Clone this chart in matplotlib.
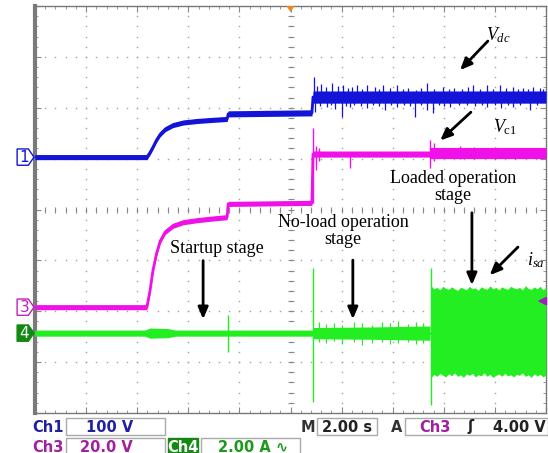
import numpy as np
import matplotlib.pyplot as plt
from matplotlib.patches import Polygon, Rectangle

# scope screen in divisions: 10 across, 8 high
# Ch1 (Vdc)
ch1_t = [0, 2.19, 2.25, 2.31, 2.38, 2.45, 2.55, 2.70, 2.90, 3.17, 3.45, 3.76, 3.78,
         5.42, 5.44, 10]
ch1_v = [5.03, 5.03, 5.12, 5.23, 5.37, 5.48, 5.58, 5.66, 5.71, 5.74, 5.76, 5.78, 5.88,
         5.90, 6.21, 6.21]
ch1_noise = [0.05, 0.05, 0.05, 0.05, 0.05, 0.05, 0.05, 0.05, 0.05, 0.05, 0.05, 0.05,
             0.06, 0.06, 0.12, 0.12]
ch1_up_t = [5.46, 5.52, 5.60, 5.70, 5.81, 5.92, 6.03, 6.12, 6.21, 6.30, 6.40, 6.50,
            6.65, 6.73, 6.81, 6.95, 7.08, 7.20, 7.30, 7.45, 7.55, 7.67, 7.80, 7.98,
            8.10, 8.20, 8.35, 8.47, 8.57, 8.70, 8.84, 8.97, 9.10, 9.22, 9.35, 9.45,
            9.55, 9.65, 9.74, 9.88, 9.95]
ch1_up_v = [6.60, 6.42, 6.46, 6.40, 6.48, 6.42, 6.44, 6.38, 6.40, 6.44, 6.36, 6.44,
            6.40, 6.37, 6.44, 6.38, 6.44, 6.36, 6.38, 6.35, 6.38, 6.48, 6.36, 6.40,
            6.37, 6.38, 6.36, 6.40, 6.44, 6.37, 6.44, 6.36, 6.44, 6.38, 6.40, 6.36,
            6.38, 6.37, 6.40, 6.39, 6.36]
ch1_dn_t = [5.48, 5.58, 5.71, 5.80, 5.88, 6.01, 6.08, 6.16, 6.25, 6.38, 6.50, 6.62,
            6.73, 6.85, 6.96, 7.08, 7.22, 7.33, 7.44, 7.55, 7.67, 7.79, 7.90, 8.00,
            8.12, 8.30, 8.45, 8.62, 8.75, 8.84, 9.00, 9.12, 9.25, 9.35, 9.50, 9.69,
            9.82]
ch1_dn_v = [5.91, 6.04, 6.01, 6.05, 5.98, 5.82, 6.04, 6.01, 6.06, 6.04, 5.99, 6.05,
            6.04, 5.95, 6.05, 6.01, 6.06, 6.04, 5.82, 6.05, 5.95, 5.89, 6.06, 6.04,
            6.01, 6.05, 6.05, 6.04, 6.06, 6.01, 6.05, 6.00, 6.06, 6.01, 6.05, 5.95,
            6.05]

# Ch3 (Vc1)
ch3_t = [0, 2.19, 2.25, 2.31, 2.38, 2.45, 2.55, 2.70, 2.90, 3.17, 3.45, 3.76, 3.78,
         5.42, 5.44, 7.72, 7.74, 10]
ch3_v = [2.08, 2.08, 2.40, 2.81, 3.14, 3.38, 3.56, 3.68, 3.75, 3.79, 3.82, 3.85, 4.11,
         4.13, 5.09, 5.09, 5.11, 5.11]
ch3_noise = [0.05, 0.05, 0.05, 0.05, 0.05, 0.05, 0.05, 0.05, 0.05, 0.05, 0.05, 0.05,
             0.05, 0.05, 0.06, 0.06, 0.11, 0.11]
ch3_spike_t = [5.44, 5.50, 5.56, 6.16, 7.73, 7.80, 8.32, 8.60, 9.00, 9.40]
ch3_spike_lo = [4.13, 4.77, 4.95, 4.81, 4.81, 4.95, 5.00, 5.00, 5.00, 5.00]
ch3_spike_hi = [5.60, 5.25, 5.20, 5.10, 5.36, 5.30, 5.25, 5.22, 5.22, 5.21]

# Ch4 (isa)
ch4_level = 1.57
ch4_t = [0, 2.15, 2.25, 2.60, 2.75, 5.43, 5.45, 6.50, 7.73]
ch4_noise = [0.06, 0.06, 0.10, 0.09, 0.06, 0.06, 0.11, 0.12, 0.14]
ch4_spike_t = [3.78, 5.44, 7.75]
ch4_spike_lo = [1.20, 0.22, 0.16]
ch4_spike_hi = [1.93, 2.85, 2.85]
ch4_small_t = [5.55, 5.70, 5.85, 6.00, 6.25, 6.40, 6.60, 6.80, 6.95, 7.10, 7.30, 7.45, 7.60]
ch4_small_lo = [1.40, 1.38, 1.42, 1.36, 1.40, 1.33, 1.38, 1.40, 1.35, 1.37, 1.40, 1.36, 1.38]
ch4_small_hi = [1.78, 1.74, 1.76, 1.72, 1.78, 1.76, 1.73, 1.78, 1.76, 1.80, 1.75, 1.79, 1.77]
ch4_load_top = [2.50, 2.44, 2.47, 2.42, 2.49, 2.45, 2.43, 2.48, 2.44, 2.41, 2.47, 2.45,
                2.42, 2.49, 2.44, 2.46, 2.41, 2.48, 2.45, 2.43, 2.50, 2.44, 2.47, 2.42,
                2.48, 2.45, 2.43, 2.49, 2.46, 2.44, 2.47, 2.42, 2.50, 2.45, 2.43, 2.48,
                2.44, 2.49, 2.42, 2.47]
ch4_load_bot = [0.70, 0.76, 0.72, 0.78, 0.74, 0.71, 0.77, 0.73, 0.79, 0.72, 0.75, 0.70,
                0.77, 0.74, 0.78, 0.71, 0.75, 0.73, 0.79, 0.72, 0.76, 0.70, 0.74, 0.77,
                0.72, 0.78, 0.73, 0.75, 0.71, 0.76, 0.74, 0.79, 0.72, 0.75, 0.70, 0.77,
                0.73, 0.76, 0.71, 0.75]

BLUE = "#1414d8"
MAGENTA = "#f010e8"
GREEN = "#22ee22"
DARK_GREEN = "#128a12"

plt.rcParams["mathtext.fontset"] = "custom"
plt.rcParams["mathtext.rm"] = "Liberation Serif"
plt.rcParams["mathtext.it"] = "Liberation Serif:italic"

W, H = 548, 453
fig = plt.figure(figsize=(W / 100, H / 100), dpi=100)
ax = fig.add_axes([35 / W, 1 - 413 / H, 511 / W, 407 / H])
ax.set_xlim(0, 10)
ax.set_ylim(0, 8)


def px(x, y):
    return x / W, 1 - y / H


# grid dots and center crosshair
for gx in range(1, 10):
    ax.plot(np.full(41, gx), np.arange(0, 8.01, 0.2), ls="none", marker="s",
            ms=1.0, color="#a0a0a0", mew=0, zorder=1)
for gy in range(1, 8):
    ax.plot(np.arange(0, 10.01, 0.2), np.full(51, gy), ls="none", marker="s",
            ms=1.0, color="#a0a0a0", mew=0, zorder=1)
ax.plot(np.full(41, 5), np.arange(0, 8.01, 0.2), ls="none", marker="_", ms=5,
        color="#8a8a8a", mew=0.8, zorder=1)
ax.plot(np.arange(0, 10.01, 0.2), np.full(51, 4), ls="none", marker="|", ms=5,
        color="#8a8a8a", mew=0.8, zorder=1)

ax.set_xticks(range(11))
ax.set_yticks(range(9))
ax.set_xticks(np.arange(0, 10.01, 0.2), minor=True)
ax.set_yticks(np.arange(0, 8.01, 0.2), minor=True)
ax.tick_params(which="both", direction="in", top=True, right=True,
               labelbottom=False, labelleft=False, color="#888888")
ax.tick_params(which="major", length=4)
ax.tick_params(which="minor", length=2.5)
for s in ax.spines.values():
    s.set_color("#777777")
    s.set_linewidth(1)
ax.spines["left"].set_linewidth(3)
ax.spines["left"].set_color("#7a7a7a")

# Ch1
c1 = np.array(ch1_v)
n1 = np.array(ch1_noise)
ax.fill_between(ch1_t, c1 - n1, c1 + n1, color=BLUE, lw=0, zorder=3)
ax.plot(ch1_t, ch1_v, color=BLUE, lw=2, zorder=3)
ax.vlines(ch1_up_t, np.interp(ch1_up_t, ch1_t, ch1_v), ch1_up_v, color=BLUE, lw=0.9, zorder=3)
ax.vlines(ch1_dn_t, ch1_dn_v, np.interp(ch1_dn_t, ch1_t, ch1_v), color=BLUE, lw=0.9, zorder=3)

# Ch3
c3 = np.array(ch3_v)
n3 = np.array(ch3_noise)
ax.fill_between(ch3_t, c3 - n3, c3 + n3, color=MAGENTA, lw=0, zorder=3)
ax.plot(ch3_t, ch3_v, color=MAGENTA, lw=2, zorder=3)
ax.vlines(ch3_spike_t, ch3_spike_lo, ch3_spike_hi, color=MAGENTA, lw=1.0, zorder=3)

# Ch4
n4 = np.array(ch4_noise)
ax.fill_between(ch4_t, ch4_level - n4, ch4_level + n4, color=GREEN, lw=0, zorder=3)
ax.plot(ch4_t, np.full(len(ch4_t), ch4_level), color=GREEN, lw=2, zorder=3)
ax.vlines(ch4_small_t, ch4_small_lo, ch4_small_hi, color=GREEN, lw=0.9, zorder=3)
load_t = np.linspace(7.75, 10, len(ch4_load_top))
ax.fill_between(load_t, ch4_load_bot, ch4_load_top, color=GREEN, lw=0, zorder=3)
ax.vlines(ch4_spike_t, ch4_spike_lo, ch4_spike_hi, color=GREEN, lw=1.0, zorder=3)

# channel markers on the left
def channel_marker(level, label, edge, face, txt):
    pts = [(-0.35, level - 0.16), (-0.13, level - 0.16), (-0.02, level),
           (-0.13, level + 0.16), (-0.35, level + 0.16)]
    ax.add_patch(Polygon(pts, closed=True, facecolor=face, edgecolor=edge, lw=1.0,
                         clip_on=False, zorder=5))
    ax.text(-0.21, level, label, color=txt, fontsize=11, ha="center", va="center",
            clip_on=False, zorder=6)


channel_marker(ch1_v[0], "1", BLUE, "white", BLUE)
channel_marker(ch3_v[0], "3", "#c020c0", "white", "#c020c0")
channel_marker(ch4_level, "4", DARK_GREEN, DARK_GREEN, "white")

# trigger markers
ax.add_patch(Polygon([(4.92, 8.0), (5.08, 8.0), (5.0, 7.88)], closed=True,
                     facecolor="#f08a20", edgecolor="none", clip_on=False, zorder=6))
ax.annotate("", xy=(9.78, 2.20), xytext=(10.0, 2.20),
            arrowprops=dict(arrowstyle="-|>,head_length=0.5,head_width=0.25",
                            color="#a020c0", lw=1.2), zorder=6)

# annotations
serif = dict(family="Liberation Serif", fontsize=13, color="black")
arrow = dict(arrowstyle="-|>,head_length=0.7,head_width=0.3", color="black", lw=2)
ax.text(9.06, 7.43, "$V_{dc}$", ha="center", va="center", **serif)
ax.annotate("", xy=(8.28, 6.70), xytext=(8.90, 7.35), arrowprops=arrow)
ax.text(9.20, 5.62, r"$V_{\rm c1}$", ha="center", va="center", **serif)
ax.annotate("", xy=(7.89, 5.32), xytext=(8.57, 5.95), arrowprops=arrow)
ax.text(8.18, 4.44, "Loaded operation\nstage", ha="center", va="center",
        linespacing=1.05, **serif)
ax.annotate("", xy=(8.55, 2.46), xytext=(8.55, 3.99), arrowprops=arrow)
ax.text(9.80, 3.01, "$i_{sa}$", ha="center", va="center", **serif)
ax.annotate("", xy=(8.86, 2.67), xytext=(9.49, 3.30), arrowprops=arrow)
ax.text(6.03, 3.58, "No-load operation\nstage", ha="center", va="center",
        linespacing=1.05, **serif)
ax.annotate("", xy=(6.22, 1.79), xytext=(6.22, 3.06), arrowprops=arrow)
ax.text(3.56, 3.24, "Startup stage", ha="center", va="center", **serif)
ax.annotate("", xy=(3.29, 1.79), xytext=(3.29, 3.05), arrowprops=arrow)

# status bar
def box(x0, y0, x1, y1, face="white", edge="#aaaaaa"):
    fx0, fy1 = px(x0, y0)
    fx1, fy0 = px(x1, y1)
    fig.patches.append(Rectangle((fx0, fy0), fx1 - fx0, fy1 - fy0, transform=fig.transFigure,
                                 facecolor=face, edgecolor=edge, lw=1))


def label(x, y, s, color, ha="left"):
    fig.text(*px(x, y), s, color=color, fontsize=10.5, ha=ha, va="center",
             family="DejaVu Sans", fontweight="bold")


box(66, 418, 165, 435)
box(317, 418, 377, 435)
box(405, 418, 548, 435)
box(66, 438, 165, 455)
box(168, 438, 198, 455, face=DARK_GREEN, edge=DARK_GREEN)
box(201, 438, 300, 455)

label(32, 427, "Ch1", "#2020a0")
label(110, 427, "100 V", "#2020a0", ha="center")
label(301, 427, "M", "#333333")
label(347, 427, "2.00 s", "#222222", ha="center")
label(391, 427, "A", "#333333")
label(419, 427, "Ch3", "#a020a0")
label(467, 427, "\u0283", "#222222")
label(546, 427, "4.00 V", "#222222", ha="right")
label(32, 447, "Ch3", "#a020a0")
label(106, 447, "20.0 V", "#a020a0", ha="center")
label(183, 447, "Ch4", "white", ha="center")
label(253, 447, "2.00 A \u223f", "#1a9a1a", ha="center")

fig.savefig("out.png", dpi=100)
